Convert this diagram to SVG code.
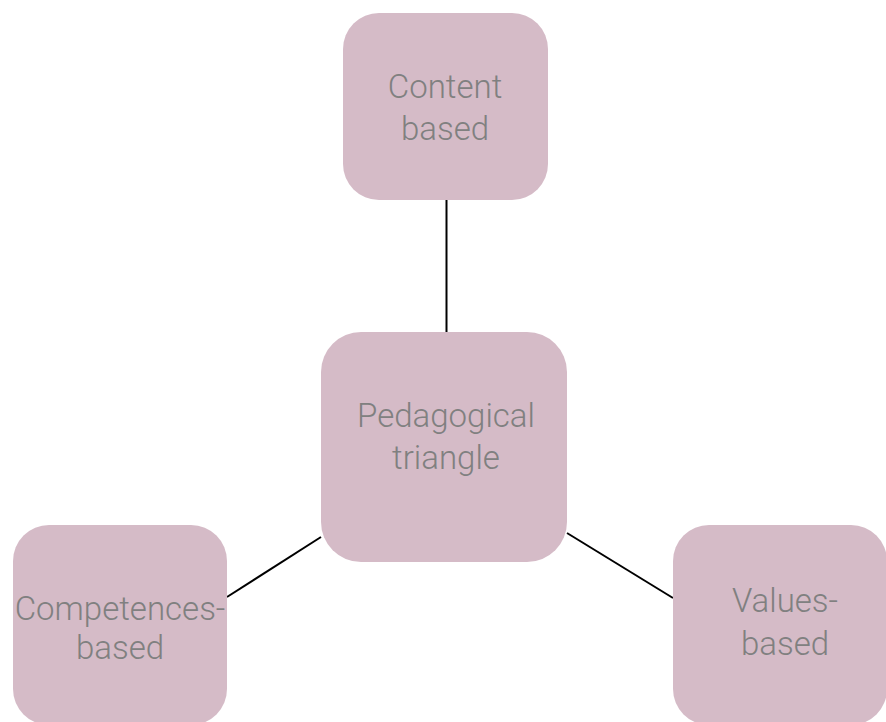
<svg xmlns="http://www.w3.org/2000/svg" width="886" height="722" viewBox="0 0 886 722">
<style>
.node rect{fill:#d5bbc7}
.node text{font-family:Roboto,"Liberation Sans",sans-serif;font-weight:300;font-size:33px;fill:#808080;text-anchor:middle}
.conn line{stroke:#000;stroke-width:2}
</style>
<rect width="886" height="722" fill="#fff"/>
<g id="connectors" class="conn">
<line x1="446.5" y1="200" x2="446.5" y2="332"/>
<line x1="321" y1="537" x2="227" y2="597"/>
<line x1="567" y1="533" x2="673" y2="598"/>
</g>
<g id="content" class="node">
<rect x="343" y="13" width="205" height="187" rx="36"/>
<text x="445" y="98">Content</text>
<text x="445" y="140">based</text>
</g>
<g id="pedagogical" class="node">
<rect x="321" y="332" width="246" height="230" rx="40"/>
<text x="446" y="427">Pedagogical</text>
<text x="446" y="469">triangle</text>
</g>
<g id="competences" class="node">
<rect x="13" y="525" width="214" height="200" rx="36"/>
<text x="120" y="620">Competences-</text>
<text x="120" y="659">based</text>
</g>
<g id="values" class="node">
<rect x="673" y="525" width="214" height="200" rx="36"/>
<text x="785" y="612">Values-</text>
<text x="785" y="655">based</text>
</g>
</svg>
